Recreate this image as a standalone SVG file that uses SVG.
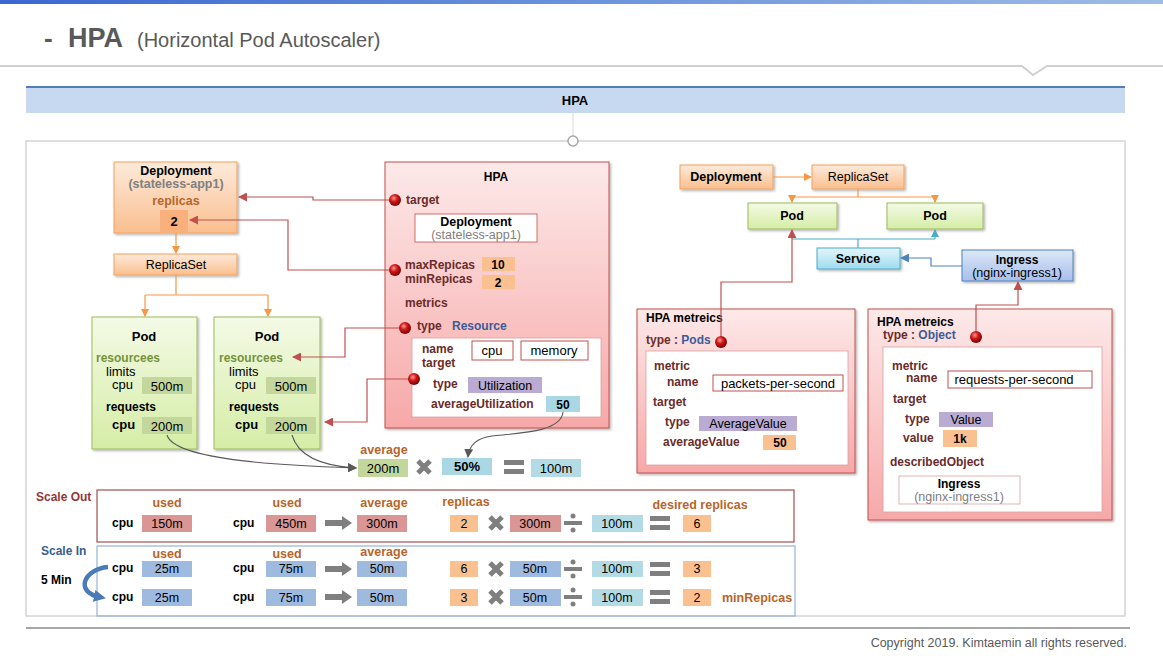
<svg xmlns="http://www.w3.org/2000/svg" width="1163" height="656" viewBox="0 0 1163 656">
<defs>
<style>
text{font-family:"Liberation Sans","Noto Sans",sans-serif;font-size:12px;fill:#000}
.b{font-weight:bold}
.c{text-anchor:middle}
.dr{fill:#6a2b29;font-weight:bold}
.br{fill:#b8652a;font-weight:bold;font-size:12.5px}
.bl{fill:#3b5c98;font-weight:bold}
.gy{fill:#808080}
.ol{fill:#76923c;font-weight:bold}
.sh{filter:url(#sh)}
.v{font-size:12.5px}
.or{fill:#fac090}
.gr{fill:#c3d69b}
.lv{fill:#b9abd2}
.lb{fill:#b3dbe6}
.pk{fill:#d99694}
.sb{fill:#9fbadf}
.wb{fill:#fff;stroke:#c0504d;stroke-width:1}
</style>
<linearGradient id="gOr" x1="0" y1="0" x2="0" y2="1"><stop offset="0" stop-color="#fdeada"/><stop offset="1" stop-color="#fabf8f"/></linearGradient>
<linearGradient id="gGr" x1="0" y1="0" x2="0" y2="1"><stop offset="0" stop-color="#f4fae6"/><stop offset="1" stop-color="#d5eda6"/></linearGradient>
<linearGradient id="gPk" x1="0" y1="0" x2="0" y2="1"><stop offset="0" stop-color="#fde9e9"/><stop offset="1" stop-color="#f7a8a8"/></linearGradient>
<linearGradient id="gSv" x1="0" y1="0" x2="0" y2="1"><stop offset="0" stop-color="#e4f5fb"/><stop offset="1" stop-color="#9edcf0"/></linearGradient>
<linearGradient id="gIn" x1="0" y1="0" x2="0" y2="1"><stop offset="0" stop-color="#dde7f7"/><stop offset="1" stop-color="#a6bfeb"/></linearGradient>
<linearGradient id="gTop" x1="0" y1="0" x2="1" y2="0"><stop offset="0" stop-color="#3a68d0"/><stop offset="1" stop-color="#9dbce6"/></linearGradient>
<radialGradient id="ball" cx="0.4" cy="0.35" r="0.65"><stop offset="0" stop-color="#ff9a9a"/><stop offset="0.45" stop-color="#d01818"/><stop offset="1" stop-color="#7a0000"/></radialGradient>
<filter id="sh" x="-10%" y="-10%" width="130%" height="130%"><feDropShadow dx="1.5" dy="1.5" stdDeviation="1.3" flood-color="#000" flood-opacity="0.3"/></filter>
<marker id="aOr" markerWidth="8" markerHeight="8" refX="7" refY="4" orient="auto" markerUnits="userSpaceOnUse"><path d="M0,0 L8,4 L0,8 z" fill="#f79646"/></marker>
<marker id="aRd" markerWidth="9" markerHeight="9" refX="8" refY="4.5" orient="auto" markerUnits="userSpaceOnUse"><path d="M0,0 L9,4.5 L0,9 z" fill="#c0504d"/></marker>
<marker id="aTl" markerWidth="8" markerHeight="8" refX="7" refY="4" orient="auto" markerUnits="userSpaceOnUse"><path d="M0,0 L8,4 L0,8 z" fill="#4bacc6"/></marker>
<marker id="aBl" markerWidth="9" markerHeight="9" refX="8" refY="4.5" orient="auto" markerUnits="userSpaceOnUse"><path d="M0,0 L9,4.5 L0,9 z" fill="#4f81bd"/></marker>
<marker id="aGy" markerWidth="9" markerHeight="9" refX="8" refY="4.5" orient="auto" markerUnits="userSpaceOnUse"><path d="M0,0 L9,4.5 L0,9 z" fill="#595959"/></marker>
<marker id="aBig" markerWidth="12" markerHeight="12" refX="6" refY="6" orient="auto" markerUnits="userSpaceOnUse"><path d="M0,0 L12,6 L0,12 z" fill="#4a7ab8"/></marker>
<g id="xs"><path d="M-6,-6 L6,6 M6,-6 L-6,6" stroke="#7f7f7f" stroke-width="5"/></g>
<g id="dv"><rect x="-9" y="-2" width="18" height="4" fill="#7f7f7f"/><circle cx="0" cy="-7" r="2.5" fill="#7f7f7f"/><circle cx="0" cy="7" r="2.5" fill="#7f7f7f"/></g>
<g id="eq"><rect x="-10" y="-7" width="20" height="5" fill="#7f7f7f"/><rect x="-10" y="2" width="20" height="5" fill="#7f7f7f"/></g>
<g id="ar"><path d="M0,-3 H17 V-7 L27,0 L17,7 V3 H0 z" fill="#7f7f7f"/></g>
</defs>

<rect width="1163" height="656" fill="#fff"/>
<rect x="0" y="0" width="1163" height="4" fill="url(#gTop)"/>

<g id="title">
<text x="44" y="47" style="font-size:26px;font-weight:bold;fill:#595959">-</text>
<text x="68" y="47" style="font-size:27px;font-weight:bold;fill:#595959">HPA</text>
<text x="137" y="47" style="font-size:20px;fill:#595959">(Horizontal Pod Autoscaler)</text>
<polyline points="0,66 1022,66 1033,75 1047,66 1163,66" fill="none" stroke="#d0d0d0" stroke-width="2"/>
</g>

<g id="header">
<rect x="26" y="86" width="1099" height="27" fill="#c6d9f0"/>
<rect x="26" y="86" width="1099" height="2" fill="#4f7fb8"/>
<text x="575" y="105" class="b c" style="font-size:13px">HPA</text>
</g>

<rect x="26" y="141" width="1099" height="475" fill="none" stroke="#d4d4d4" stroke-width="1.5"/>
<line x1="573" y1="113" x2="573" y2="136" stroke="#d9d9d9" stroke-width="1"/>
<circle cx="573" cy="141" r="5" fill="#fff" stroke="#a6a6a6" stroke-width="1.5"/>

<g id="deploy1">
<rect x="114" y="162" width="123" height="71" fill="url(#gOr)" stroke="#f5a05a" class="sh"/>
<text x="176" y="175" class="b c" style="font-size:12.5px">Deployment</text>
<text x="176" y="188" class="b c gy" style="font-size:12.5px">(stateless-app1)</text>
<text x="176" y="205" class="c br">replicas</text>
<rect x="160" y="210" width="28" height="22" fill="#f9b07c"/>
<text x="174" y="226" class="b c" style="font-size:13px">2</text>
</g>
<g id="replicaset1">
<rect x="114" y="254" width="123" height="21" fill="url(#gOr)" stroke="#f5a05a" class="sh"/>
<text x="176" y="269" class="c v">ReplicaSet</text>
</g>
<g id="pod1">
<rect x="92" y="317" width="105" height="132" fill="url(#gGr)" stroke="#9bbb59" class="sh"/>
<text x="144" y="341" class="b c" style="font-size:13px">Pod</text>
<text x="96" y="362" class="ol">resourcees</text>
<text x="106" y="376" style="font-size:13px">limits</text>
<text x="112" y="389" style="font-size:13px">cpu</text>
<rect x="142" y="377" width="50" height="17" class="gr"/>
<text x="167" y="391" class="c" style="font-size:13px">500m</text>
<text x="106" y="411" class="b">requests</text>
<text x="112" y="429" class="b" style="font-size:13px">cpu</text>
<rect x="142" y="417" width="50" height="17" class="gr"/>
<text x="167" y="431" class="c" style="font-size:13px">200m</text>
</g>
<g id="pod2">
<rect x="214" y="317" width="106" height="132" fill="url(#gGr)" stroke="#9bbb59" class="sh"/>
<text x="267" y="341" class="b c" style="font-size:13px">Pod</text>
<text x="219" y="362" class="ol">resourcees</text>
<text x="229" y="376" style="font-size:13px">limits</text>
<text x="235" y="389" style="font-size:13px">cpu</text>
<rect x="266" y="377" width="50" height="17" class="gr"/>
<text x="291" y="391" class="c" style="font-size:13px">500m</text>
<text x="229" y="411" class="b">requests</text>
<text x="235" y="429" class="b" style="font-size:13px">cpu</text>
<rect x="266" y="417" width="50" height="17" class="gr"/>
<text x="291" y="431" class="c" style="font-size:13px">200m</text>
</g>

<g id="hpa">
<rect x="385" y="162" width="224" height="266" fill="url(#gPk)" stroke="#c0504d" class="sh"/>
<text x="496" y="181" class="b c">HPA</text>
<text x="406" y="204" class="dr">target</text>
<rect x="415" y="214" width="122" height="28" fill="#fff" stroke="#c0504d" stroke-width="0.8"/>
<text x="476" y="226" class="b c" style="font-size:12.5px">Deployment</text>
<text x="476" y="239" class="c gy" style="font-size:12.5px">(stateless-app1)</text>
<text x="405" y="269" class="dr">maxRepicas</text>
<rect x="482" y="257" width="33" height="14" class="or"/>
<text x="498" y="269" class="b c">10</text>
<text x="405" y="283" class="dr">minRepicas</text>
<rect x="482" y="275" width="33" height="14" class="or"/>
<text x="498" y="287" class="b c">2</text>
<text x="405" y="307" class="dr">metrics</text>
<text x="417" y="330" class="dr">type</text>
<text x="452" y="330" class="bl">Resource</text>
<rect x="412" y="338" width="189" height="79" fill="#fff" stroke="#d9a0a0" stroke-width="0.8"/>
<text x="422" y="353" class="dr">name</text>
<text x="422" y="367" class="dr">target</text>
<rect x="472" y="341" width="41" height="19" class="wb"/>
<text x="492" y="355" class="c" style="font-size:13px">cpu</text>
<rect x="521" y="341" width="67" height="19" class="wb"/>
<text x="554" y="355" class="c" style="font-size:13px">memory</text>
<text x="433" y="388" class="dr">type</text>
<rect x="468" y="377" width="74" height="16" class="lv"/>
<text x="505" y="390" class="c v">Utilization</text>
<text x="431" y="408" class="dr">averageUtilization</text>
<rect x="546" y="396" width="34" height="16" fill="#a9d8e4"/>
<text x="563" y="409" class="b c">50</text>
</g>

<g id="avgrow">
<text x="384" y="454" class="c br">average</text>
<rect x="358" y="459" width="50" height="18" class="gr"/>
<text x="383" y="473" class="c" style="font-size:13px">200m</text>
<use href="#xs" x="424" y="467"/>
<rect x="442" y="458" width="50" height="17" fill="#a9d8e4"/>
<text x="467" y="471" class="b c" style="font-size:13px">50%</text>
<use href="#eq" x="514" y="467"/>
<rect x="531" y="459" width="50" height="18" class="lb"/>
<text x="556" y="473" class="c" style="font-size:13px">100m</text>
</g>

<g id="deploy2">
<rect x="680" y="165" width="93" height="24" fill="url(#gOr)" stroke="#f5a05a" class="sh"/>
<text x="726" y="181" class="b c" style="font-size:12.5px">Deployment</text>
</g>
<g id="replicaset2">
<rect x="812" y="165" width="92" height="24" fill="url(#gOr)" stroke="#f5a05a" class="sh"/>
<text x="858" y="181" class="c v">ReplicaSet</text>
</g>
<g id="pod3">
<rect x="748" y="203" width="89" height="26" fill="url(#gGr)" stroke="#9bbb59" class="sh"/>
<text x="792" y="220" class="b c" style="font-size:12.5px">Pod</text>
</g>
<g id="pod4">
<rect x="887" y="203" width="96" height="26" fill="url(#gGr)" stroke="#9bbb59" class="sh"/>
<text x="935" y="220" class="b c" style="font-size:12.5px">Pod</text>
</g>
<g id="service">
<rect x="817" y="248" width="83" height="21" fill="url(#gSv)" stroke="#4bacc6" class="sh"/>
<text x="858" y="263" class="b c" style="font-size:12.5px">Service</text>
</g>
<g id="ingress">
<rect x="962" y="250" width="111" height="31" fill="url(#gIn)" stroke="#4f81bd" class="sh"/>
<text x="1017" y="264" class="b c">Ingress</text>
<text x="1017" y="277" class="c v">(nginx-ingress1)</text>
</g>

<g id="hpa-pods">
<rect x="637" y="309" width="218" height="164" fill="url(#gPk)" stroke="#c0504d" class="sh"/>
<text x="646" y="322" class="b">HPA metreics</text>
<text x="646" y="344" class="dr">type : <tspan class="bl">Pods</tspan></text>
<rect x="646" y="351" width="202" height="114" fill="#fff" stroke="#d9a0a0" stroke-width="0.8"/>
<text x="654" y="370" class="dr">metric</text>
<text x="667" y="386" class="dr">name</text>
<rect x="713" y="375" width="130" height="16" class="wb"/>
<text x="778" y="388" class="c" style="font-size:13px">packets-per-second</text>
<text x="653" y="406" class="dr">target</text>
<text x="665" y="426" class="dr">type</text>
<rect x="699" y="416" width="98" height="15" class="lv"/>
<text x="748" y="428" class="c v">AverageValue</text>
<text x="663" y="446" class="dr">averageValue</text>
<rect x="763" y="435" width="33" height="15" class="or"/>
<text x="780" y="447" class="b c">50</text>
</g>

<g id="hpa-object">
<rect x="868" y="309" width="244" height="211" fill="url(#gPk)" stroke="#c0504d" class="sh"/>
<text x="877" y="326" class="b">HPA metreics</text>
<text x="883" y="339" class="dr">type : <tspan class="bl">Object</tspan></text>
<rect x="883" y="347" width="219" height="165" fill="#fff" stroke="#d9a0a0" stroke-width="0.8"/>
<text x="892" y="370" class="dr">metric</text>
<text x="906" y="382" class="dr">name</text>
<rect x="948" y="371" width="144" height="17" class="wb"/>
<text x="1014" y="384" class="c" style="font-size:13px">requests-per-second</text>
<text x="893" y="403" class="dr">target</text>
<text x="905" y="423" class="dr">type</text>
<rect x="939" y="412" width="54" height="15" class="lv"/>
<text x="966" y="424" class="c v">Value</text>
<text x="903" y="442" class="dr">value</text>
<rect x="943" y="430" width="34" height="17" class="or"/>
<text x="960" y="443" class="b c">1k</text>
<text x="890" y="466" class="dr">describedObject</text>
<rect x="899" y="476" width="121" height="28" fill="#fff" stroke="#d9a0a0" stroke-width="0.8"/>
<text x="959" y="488" class="b c">Ingress</text>
<text x="959" y="501" class="c gy v">(nginx-ingress1)</text>
</g>

<g id="scaleout">
<text x="36" y="501" class="b" style="fill:#953735">Scale Out</text>
<rect x="97" y="490" width="697" height="52" fill="none" stroke="#a0504d" stroke-width="1.2"/>
<text x="167" y="507" class="c br">used</text>
<text x="112" y="527" class="b">cpu</text>
<rect x="142" y="515" width="50" height="17" class="pk"/>
<text x="167" y="528" class="c v">150m</text>
<text x="287" y="507" class="c br">used</text>
<text x="233" y="527" class="b">cpu</text>
<rect x="266" y="515" width="50" height="17" class="pk"/>
<text x="291" y="528" class="c v">450m</text>
<use href="#ar" x="325" y="523"/>
<text x="384" y="507" class="c br">average</text>
<rect x="357" y="515" width="50" height="17" class="pk"/>
<text x="382" y="528" class="c v">300m</text>
<text x="466" y="506" class="c br">replicas</text>
<rect x="450" y="515" width="28" height="17" class="or"/>
<text x="464" y="528" class="c v">2</text>
<use href="#xs" x="496" y="523"/>
<rect x="510" y="515" width="51" height="17" class="pk"/>
<text x="535" y="528" class="c v">300m</text>
<use href="#dv" x="573" y="523"/>
<rect x="592" y="515" width="51" height="17" class="lb"/>
<text x="617" y="528" class="c v">100m</text>
<use href="#eq" x="660" y="523"/>
<rect x="683" y="515" width="28" height="17" class="or"/>
<text x="697" y="528" class="c v">6</text>
<text x="700" y="509" class="c br">desired replicas</text>
</g>

<g id="scalein">
<text x="41" y="555" class="b" style="fill:#366092">Scale In</text>
<text x="41" y="584" class="b">5 Min</text>
<rect x="97" y="546" width="698" height="70" fill="none" stroke="#95b3d7" stroke-width="1.2"/>
<text x="167" y="558" class="c br">used</text>
<text x="287" y="558" class="c br">used</text>
<text x="384" y="556" class="c br">average</text>
<text x="112" y="572" class="b">cpu</text>
<rect x="142" y="561" width="50" height="16" class="sb"/>
<text x="167" y="573" class="c v">25m</text>
<text x="233" y="572" class="b">cpu</text>
<rect x="266" y="561" width="50" height="16" class="sb"/>
<text x="291" y="573" class="c v">75m</text>
<use href="#ar" x="325" y="569"/>
<rect x="357" y="561" width="50" height="16" class="sb"/>
<text x="382" y="573" class="c v">50m</text>
<rect x="450" y="561" width="28" height="16" class="or"/>
<text x="464" y="573" class="c v">6</text>
<use href="#xs" x="496" y="569"/>
<rect x="510" y="561" width="51" height="16" class="sb"/>
<text x="535" y="573" class="c v">50m</text>
<use href="#dv" x="573" y="569"/>
<rect x="592" y="561" width="51" height="16" class="lb"/>
<text x="617" y="573" class="c v">100m</text>
<use href="#eq" x="660" y="569"/>
<rect x="683" y="561" width="28" height="16" class="or"/>
<text x="697" y="573" class="c v">3</text>

<text x="112" y="601" class="b">cpu</text>
<rect x="142" y="589" width="50" height="17" class="sb"/>
<text x="167" y="602" class="c v">25m</text>
<text x="233" y="601" class="b">cpu</text>
<rect x="266" y="589" width="50" height="17" class="sb"/>
<text x="291" y="602" class="c v">75m</text>
<use href="#ar" x="325" y="597"/>
<rect x="357" y="589" width="50" height="17" class="sb"/>
<text x="382" y="602" class="c v">50m</text>
<rect x="450" y="589" width="28" height="17" class="or"/>
<text x="464" y="602" class="c v">3</text>
<use href="#xs" x="496" y="597"/>
<rect x="510" y="589" width="51" height="17" class="sb"/>
<text x="535" y="602" class="c v">50m</text>
<use href="#dv" x="573" y="597"/>
<rect x="592" y="589" width="51" height="17" class="lb"/>
<text x="617" y="602" class="c v">100m</text>
<use href="#eq" x="660" y="597"/>
<rect x="683" y="589" width="28" height="17" class="or"/>
<text x="697" y="602" class="c v">2</text>
<text x="722" y="602" class="br">minRepicas</text>
</g>

<g id="connectors" fill="none">
<path d="M176,233 V253" stroke="#f79646" stroke-width="1.2" marker-end="url(#aOr)"/>
<path d="M176,275 V295 M145,295 H268" stroke="#f79646" stroke-width="1.2"/>
<path d="M145,295 V316" stroke="#f79646" stroke-width="1.2" marker-end="url(#aOr)"/>
<path d="M268,295 V316" stroke="#f79646" stroke-width="1.2" marker-end="url(#aOr)"/>
<path d="M395,200 H313 V197 H239" stroke="#c0504d" stroke-width="1.2" marker-end="url(#aRd)"/>
<path d="M395,270 H288 V220 H190" stroke="#c0504d" stroke-width="1.2" marker-end="url(#aRd)"/>
<path d="M405,328 H345 V357 H293" stroke="#c0504d" stroke-width="1.2" marker-end="url(#aRd)"/>
<path d="M414,379 H367 V422 H325" stroke="#c0504d" stroke-width="1.2" marker-end="url(#aRd)"/>
<path d="M167,435 C175,462 300,466 356,468" stroke="#595959" stroke-width="1.1" marker-end="url(#aGy)"/>
<path d="M292,435 C298,456 322,466 356,468" stroke="#595959" stroke-width="1.1" marker-end="url(#aGy)"/>
<path d="M563,412 C561,432 520,433 492,436 C476,438 469,446 468,457" stroke="#595959" stroke-width="1.1" marker-end="url(#aGy)"/>
<path d="M773,177 H811" stroke="#f79646" stroke-width="1.2" marker-end="url(#aOr)"/>
<path d="M858,189 V197 M792,197 H935" stroke="#f79646" stroke-width="1.2"/>
<path d="M792,197 V202" stroke="#f79646" stroke-width="1.2" marker-end="url(#aOr)"/>
<path d="M935,197 V202" stroke="#f79646" stroke-width="1.2" marker-end="url(#aOr)"/>
<path d="M858,248 V239 M792,239 H935" stroke="#4bacc6" stroke-width="1.2"/>
<path d="M935,239 V230" stroke="#4bacc6" stroke-width="1.2" marker-end="url(#aTl)"/>
<path d="M962,266 H931 V258 H901" stroke="#4f81bd" stroke-width="1.2" marker-end="url(#aBl)"/>
<path d="M721,342 V282 H792 V230" stroke="#c0504d" stroke-width="1.2" marker-end="url(#aRd)"/>
<path d="M976,336 V305 H1018 V282" stroke="#c0504d" stroke-width="1.2" marker-end="url(#aRd)"/>
<path d="M108,567 C84,569 74,592 100,597" stroke="#4a7ab8" stroke-width="4.5" marker-end="url(#aBig)"/>
</g>

<g id="balls">
<circle cx="395" cy="200" r="6" fill="url(#ball)"/>
<circle cx="395" cy="270" r="6" fill="url(#ball)"/>
<circle cx="405" cy="328" r="6" fill="url(#ball)"/>
<circle cx="414" cy="379" r="6" fill="url(#ball)"/>
<circle cx="721" cy="342" r="6" fill="url(#ball)"/>
<circle cx="976" cy="337" r="6" fill="url(#ball)"/>
</g>

<line x1="26" y1="628" x2="1130" y2="628" stroke="#a6a6a6" stroke-width="2"/>
<text x="1127" y="647" style="font-size:12.5px;fill:#595959;text-anchor:end">Copyright 2019. Kimtaemin all rights reserved.</text>
</svg>
